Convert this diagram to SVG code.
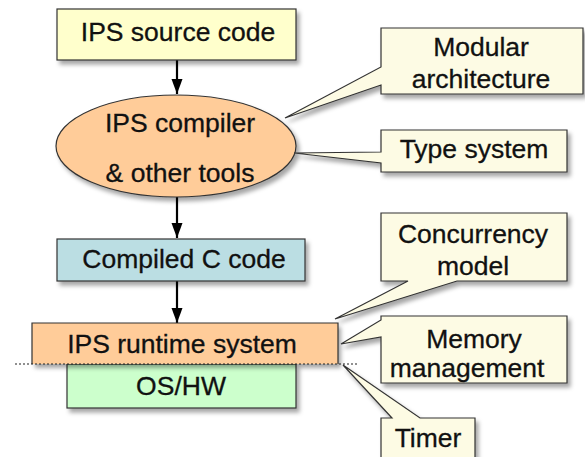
<svg xmlns="http://www.w3.org/2000/svg" width="585" height="457" viewBox="0 0 585 457">
<style>
text{font-family:"Liberation Sans",Arial,sans-serif;font-size:26.5px;fill:#111;stroke:#111;stroke-width:0.3;text-anchor:middle}
.box{stroke:#333;stroke-width:1.2}
.call{fill:#fdfbe4;stroke:#333;stroke-width:1.2}
.conn{stroke:#000;stroke-width:2.2;fill:none}
</style>
<defs>
<filter id="sh" x="-20%" y="-20%" width="140%" height="160%">
<feDropShadow dx="3" dy="4" stdDeviation="2" flood-color="#000" flood-opacity="0.35"/>
</filter>
<marker id="ah" markerWidth="16" markerHeight="12" refX="15" refY="6" orient="auto" markerUnits="userSpaceOnUse">
<path d="M0,0.5 L15,6 L0,11.5 Z" fill="#000"/>
</marker>
</defs>
<rect width="585" height="457" fill="#fff"/>
<g id="connectors">
<line class="conn" x1="177" y1="60" x2="177" y2="94" marker-end="url(#ah)"/>
<line class="conn" x1="177" y1="197" x2="177" y2="238" marker-end="url(#ah)"/>
<line class="conn" x1="177" y1="281" x2="177" y2="323" marker-end="url(#ah)"/>
</g>
<g id="source">
<rect class="box" x="57" y="9" width="239" height="51" fill="#ffffcc" filter="url(#sh)"/>
<text x="178" y="41">IPS source code</text>
</g>
<g id="compiler">
<ellipse class="box" cx="176" cy="146" rx="120" ry="51" fill="#ffcc99" filter="url(#sh)"/>
<text x="180" y="132">IPS compiler</text>
<text x="180" y="182">&amp; other tools</text>
</g>
<g id="ccode">
<rect class="box" x="57" y="239" width="248" height="42" fill="#bbdee3" filter="url(#sh)"/>
<text x="184" y="268">Compiled C code</text>
</g>
<g id="oshw">
<rect class="box" x="67" y="364" width="229" height="44" fill="#ccffcc" filter="url(#sh)"/>
<text x="181" y="395">OS/HW</text>
</g>
<g id="runtime">
<rect x="32" y="323" width="306" height="41" fill="#ffcc99" filter="url(#sh)"/>
<path class="box" d="M32,364 V323 H338 V364" fill="none"/>
<line x1="15" y1="364" x2="358" y2="364" stroke="#222" stroke-width="1.2" stroke-dasharray="2,2"/>
<text x="182" y="353">IPS runtime system</text>
</g>
<g id="modular">
<path class="call" d="M381,28 H583 V94 H381 V85 L285,118 L381,67 Z" filter="url(#sh)"/>
<text x="481" y="56">Modular</text>
<text x="481" y="88">architecture</text>
</g>
<g id="typesystem">
<path class="call" d="M381,130 H567 V172 H381 V163 L294,153 L381,152 Z" filter="url(#sh)"/>
<text x="474" y="158">Type system</text>
</g>
<g id="concurrency">
<path class="call" d="M381,213 H567 V281 H457 L335,319 L408,281 H381 Z" filter="url(#sh)"/>
<text x="473" y="243">Concurrency</text>
<text x="473" y="275">model</text>
</g>
<g id="memory">
<path class="call" d="M381,316 H567 V383 H381 V337 L341,344 L381,320 Z" filter="url(#sh)"/>
<text x="474" y="348">Memory</text>
<text x="467" y="377">management</text>
</g>
<g id="timer">
<path class="call" d="M381,418 H392 L343,365 L420,418 H475 V470 H381 Z" filter="url(#sh)"/>
<text x="428" y="447">Timer</text>
</g>
</svg>
